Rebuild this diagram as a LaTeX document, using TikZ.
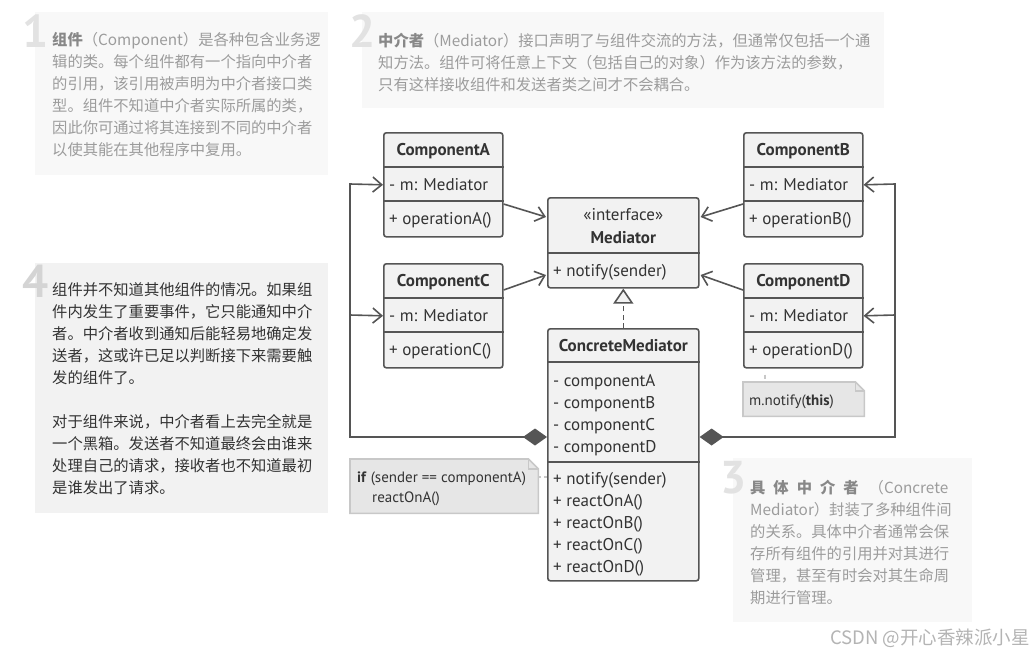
\documentclass[tikz,border=0pt]{standalone}
\usepackage{fontspec}
\setmainfont{PT Sans}
\newfontfamily\cjk{Noto Sans CJK SC}
\usetikzlibrary{arrows.meta,calc}
\definecolor{lc}{HTML}{555555}
\definecolor{bf}{HTML}{F2F2F2}
\definecolor{tc}{HTML}{333333}
\definecolor{notef}{HTML}{E6E6E6}
\definecolor{noted}{HTML}{C8C8C8}
\definecolor{pale}{HTML}{F8F8F8}
\definecolor{palefour}{HTML}{F2F2F2}
\definecolor{ptext}{HTML}{9C9C9C}
\definecolor{pbold}{HTML}{888888}
\definecolor{numc}{HTML}{E2E2E2}
\definecolor{numfour}{HTML}{D4D4D4}
\definecolor{wm}{HTML}{B4B4B4}
\begin{document}
\begin{tikzpicture}[x=1pt,y=-1pt,
  cls/.style={draw=lc, fill=bf, line width=1.6pt, rounded corners=2.5pt, anchor=north west, inner sep=0pt},
  divl/.style={draw=lc, line width=1.6pt},
  ctitle/.style={font=\fontsize{17}{20}\selectfont\bfseries, text=tc, inner sep=0pt, anchor=base},
  cmem/.style={font=\fontsize{17}{20}\selectfont, text=tc, inner sep=0pt, anchor=base west},
  assoc/.style={draw=lc, line width=1.6pt, -{Straight Barb[length=9pt,width=15pt]}},
  comp/.style={draw=lc, line width=1.6pt, {Diamond[length=24pt,width=17pt,fill=lc]}-{Straight Barb[length=9pt,width=15pt]}},
  real/.style={draw=lc, line width=1.6pt, dash pattern=on 5pt off 3.5pt, -{Triangle[open,length=15pt,width=20pt,fill=bf]}},
  notebox/.style={draw=noted, fill=notef, line width=1.6pt},
  notetxt/.style={font=\fontsize{15}{20}\selectfont, text=tc, inner sep=0pt, anchor=base west},
  ptxt/.style={font=\cjk\fontsize{15.3}{22}\selectfont, text=ptext, align=left, inner sep=0pt, anchor=north west},
  num/.style={font=\fontsize{46}{46}\selectfont\bfseries, text=numc, inner sep=0pt},
]
\useasboundingbox (0,0) rectangle (1036,657);
\fill[white] (0,0) rectangle (1036,657);

% ---------- explanation boxes ----------
\fill[pale] (35,12) rectangle (328,175);
\fill[pale] (362,12) rectangle (884,108);
\fill[palefour] (35,263) rectangle (328,513);
\fill[pale] (733,458) rectangle (972,622);

\node[num] (n1) at (36,31.5) {1};
\node[num] (n2) at (363,31.5) {2};
\node[num, text=numfour] (n4) at (36,281) {4};
\node[num] (n3) at (734,478) {3};

\node[ptxt] (t1) at (52,32.5) {{\color{pbold}\bfseries 组件}（Component）是各种包含业务逻\\
辑的类。每个组件都有一个指向中介者\\
的引用，该引用被声明为中介者接口类\\
型。组件不知道中介者实际所属的类，\\
因此你可通过将其连接到不同的中介者\\
以使其能在其他程序中复用。};

\node[ptxt] (t2) at (378,32.5) {{\color{pbold}\bfseries 中介者}（Mediator）接口声明了与组件交流的方法，但通常仅包括一个通\\
知方法。组件可将任意上下文（包括自己的对象）作为该方法的参数，\\
只有这样接收组件和发送者类之间才不会耦合。};

\node[ptxt] (t3) at (750,479.5) {{\color{pbold}\bfseries 具\hspace{8pt}体\hspace{8pt}中\hspace{8pt}介\hspace{8pt}者}\hspace{10pt}（Concrete\\
Mediator）封装了多种组件间\\
的关系。具体中介者通常会保\\
存所有组件的引用并对其进行\\
管理，甚至有时会对其生命周\\
期进行管理。};

\node[ptxt, text=tc] (t4) at (52,282.5) {组件并不知道其他组件的情况。如果组\\
件内发生了重要事件，它只能通知中介\\
者。中介者收到通知后能轻易地确定发\\
送者，这或许已足以判断接下来需要触\\
发的组件了。\\[22pt]
对于组件来说，中介者看上去完全就是\\
一个黑箱。发送者不知道最终会由谁来\\
处理自己的请求，接收者也不知道最初\\
是谁发出了请求。};

% ---------- classes ----------
% ComponentA
\node[cls, minimum width=119pt, minimum height=104pt] (A) at (383,132) {};
\draw[divl] ($(A.north west)+(0,35)$) -- ($(A.north east)+(0,35)$);
\draw[divl] ($(A.north west)+(0,69)$) -- ($(A.north east)+(0,69)$);
\node[ctitle] (At) at ($(A.north)+(0,23.5)$) {ComponentA};
\node[cmem] (Aa) at ($(A.north west)+(6,58)$) {- m: Mediator};
\node[cmem] (Am) at ($(A.north west)+(6,92.5)$) {+ operationA()};

% ComponentB
\node[cls, minimum width=119pt, minimum height=104pt] (B) at (743,132) {};
\draw[divl] ($(B.north west)+(0,35)$) -- ($(B.north east)+(0,35)$);
\draw[divl] ($(B.north west)+(0,69)$) -- ($(B.north east)+(0,69)$);
\node[ctitle] (Bt) at ($(B.north)+(0,23.5)$) {ComponentB};
\node[cmem] (Ba) at ($(B.north west)+(6,58)$) {- m: Mediator};
\node[cmem] (Bm) at ($(B.north west)+(6,92.5)$) {+ operationB()};

% ComponentC
\node[cls, minimum width=119pt, minimum height=104pt] (C) at (383,263) {};
\draw[divl] ($(C.north west)+(0,35)$) -- ($(C.north east)+(0,35)$);
\draw[divl] ($(C.north west)+(0,69)$) -- ($(C.north east)+(0,69)$);
\node[ctitle] (Ct) at ($(C.north)+(0,23.5)$) {ComponentC};
\node[cmem] (Ca) at ($(C.north west)+(6,58)$) {- m: Mediator};
\node[cmem] (Cm) at ($(C.north west)+(6,92.5)$) {+ operationC()};

% ComponentD
\node[cls, minimum width=119pt, minimum height=104pt] (D) at (743,263) {};
\draw[divl] ($(D.north west)+(0,35)$) -- ($(D.north east)+(0,35)$);
\draw[divl] ($(D.north west)+(0,69)$) -- ($(D.north east)+(0,69)$);
\node[ctitle] (Dt) at ($(D.north)+(0,23.5)$) {ComponentD};
\node[cmem] (Da) at ($(D.north west)+(6,58)$) {- m: Mediator};
\node[cmem] (Dm) at ($(D.north west)+(6,92.5)$) {+ operationD()};

% Mediator
\node[cls, minimum width=151pt, minimum height=90pt] (M) at (547,197) {};
\draw[divl] ($(M.north west)+(0,56)$) -- ($(M.north east)+(0,56)$);
\node[ctitle, font=\fontsize{17}{20}\selectfont] (Mi) at ($(M.north)+(0,23)$) {«interface»};
\node[ctitle] (Mt) at ($(M.north)+(0,46.5)$) {Mediator};
\node[cmem] (Mm) at ($(M.north west)+(6,79.5)$) {+ notify(sender)};

% ConcreteMediator
\node[cls, minimum width=151pt, minimum height=252pt] (CM) at (547,328) {};
\draw[divl] ($(CM.north west)+(0,34)$) -- ($(CM.north east)+(0,34)$);
\draw[divl] ($(CM.north west)+(0,134)$) -- ($(CM.north east)+(0,134)$);
\node[ctitle] (CMt) at ($(CM.north)+(0,23)$) {ConcreteMediator};
\node[cmem] (CMa1) at ($(CM.north west)+(6,58)$) {- componentA};
\node[cmem] (CMa2) at ($(CM.north west)+(6,80)$) {- componentB};
\node[cmem] (CMa3) at ($(CM.north west)+(6,102)$) {- componentC};
\node[cmem] (CMa4) at ($(CM.north west)+(6,124)$) {- componentD};
\node[cmem] (CMm1) at ($(CM.north west)+(6,156)$) {+ notify(sender)};
\node[cmem] (CMm2) at ($(CM.north west)+(6,178)$) {+ reactOnA()};
\node[cmem] (CMm3) at ($(CM.north west)+(6,200)$) {+ reactOnB()};
\node[cmem] (CMm4) at ($(CM.north west)+(6,222)$) {+ reactOnC()};
\node[cmem] (CMm5) at ($(CM.north west)+(6,244)$) {+ reactOnD()};

% ---------- notes ----------
\node[inner sep=0pt, minimum width=121pt, minimum height=34pt, anchor=north west] (N1) at (743,382) {};
\draw[notebox] (N1.south west) -- (N1.north west) -- ($(N1.north east)+(-9,0)$) -- ($(N1.north east)+(0,9)$) -- (N1.south east) -- cycle;
\draw[draw=noted, line width=1.6pt] ($(N1.north east)+(-9,0)$) -- ($(N1.north east)+(-9,9)$) -- ($(N1.north east)+(0,9)$);
\node[notetxt] (N1t) at ($(N1.north west)+(6,23)$) {m.notify(\textbf{this})};

\node[inner sep=0pt, minimum width=188pt, minimum height=54pt, anchor=north west] (N2) at (350,459) {};
\draw[notebox] (N2.south west) -- (N2.north west) -- ($(N2.north east)+(-10,0)$) -- ($(N2.north east)+(0,10)$) -- (N2.south east) -- cycle;
\draw[draw=noted, line width=1.6pt] ($(N2.north east)+(-10,0)$) -- ($(N2.north east)+(-10,10)$) -- ($(N2.north east)+(0,10)$);
\node[notetxt] (N2a) at ($(N2.north west)+(7,23)$) {\textbf{if} (sender == componentA)};
\node[notetxt] (N2b) at ($(N2.north west)+(22,43)$) {reactOnA()};

\draw[draw=noted, line width=1.6pt, dash pattern=on 4pt off 11pt, dash phase=9pt] (D.south west -| 765,0) -- (N1.north west -| 765,0);
\draw[draw=noted, line width=1.6pt, dash pattern=on 3pt off 3pt] ($(N2.north east)+(0,18)$) -- ($(CM.north west)+(0,149)$);

% ---------- connectors ----------
\draw[assoc] ($(A.north east)+(0,72)$) -- ($(M.north west)+(-1,20)$);
\draw[assoc] ($(C.north east)+(0,27)$) -- ($(M.north west)+(-1,78)$);
\draw[assoc] ($(B.north west)+(0,72)$) -- ($(M.north east)+(1,20)$);
\draw[assoc] ($(D.north west)+(0,27)$) -- ($(M.north east)+(1,78)$);

\draw[real] (CM.north) -- (M.south);

\coordinate (LB) at (350,437);
\coordinate (LT) at (350,184);
\coordinate (LM) at (350,315);
\coordinate (RB) at (895,437);
\coordinate (RT) at (895,184);
\coordinate (RM) at (895,315);
\draw[comp] ($(CM.north west)+(0,109)$) -- (LB) -- (LT) -- (A.west);
\draw[assoc] (LM) -- (C.west);
\draw[comp] ($(CM.north east)+(0,109)$) -- (RB) -- (RT) -- (B.east);
\draw[assoc] (RM) -- (D.east);

% watermark
\node[font=\cjk\fontsize{18.5}{22}\selectfont, text=wm, anchor=east, inner sep=0pt] (wmk) at (1030,638) {CSDN @开心香辣派小星};
\end{tikzpicture}
\end{document}
